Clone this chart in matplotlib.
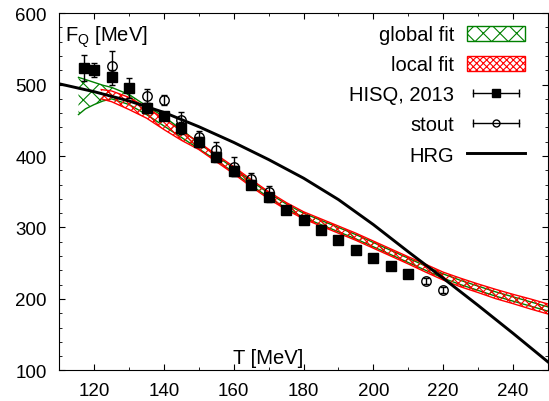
import matplotlib
matplotlib.use("Agg")
import matplotlib.pyplot as plt
from matplotlib.lines import Line2D
from matplotlib.patches import Patch
from matplotlib.legend_handler import HandlerLine2D
from matplotlib.ticker import MultipleLocator

plt.rcParams["font.family"] = ["Liberation Sans", "DejaVu Sans"]
plt.rcParams["hatch.linewidth"] = 0.8

# global fit band (green)
global_T = [115.5, 117.5, 120, 122.5, 125, 130, 135, 140, 145, 150, 155, 160, 165, 170, 175, 180,
            185, 190, 195, 200, 205, 210, 215, 220, 225, 230, 235, 240, 245, 250]
global_hi = [510, 507, 503, 499, 496, 486, 470, 455, 437, 418, 400, 383, 365, 348, 333, 320,
             310, 300, 290, 279, 268, 257, 246, 235, 226, 218, 210, 203, 196, 189]
global_lo = [458, 466, 472, 477, 480, 472, 458, 442, 426, 410, 394, 377, 359, 342, 327, 314,
             304, 294, 284, 273, 262, 251, 240, 229, 220, 212, 204, 197, 190, 183]

# local fit band (red)
local_T = [122, 125, 130, 135, 140, 145, 150, 155, 160, 165, 170, 175, 180, 185, 190, 195,
           200, 205, 210, 215, 220, 225, 230, 235, 240, 245, 250]
local_hi = [493, 491, 482, 468, 452, 435, 419, 402, 385, 367, 350, 335, 322, 312, 302, 292,
            281, 270, 259, 248.5, 237.5, 229, 221, 213.5, 206.5, 200, 193]
local_lo = [480, 476, 465, 453, 437, 422, 409, 392, 375, 357, 340, 325, 312, 302, 292, 282,
            271, 260, 249, 237.5, 226.5, 217, 209, 200.5, 193.5, 186, 179]

# HISQ 2013 lattice data
hisq_T = [117, 120, 125, 130, 135, 140, 145, 150, 155, 160, 165, 170, 175, 180, 185, 190, 195,
          200, 205, 210]
hisq_F = [523, 520, 510, 495, 467, 456, 439, 420, 399, 379, 360, 342, 325, 310, 296, 283, 269,
          258, 246, 235]
hisq_err = [18, 10, 11, 14, 7, 6, 8, 7, 7, 7, 6, 6, 5, 5, 4, 4, 4, 4, 4, 4]

# stout data
stout_T = [125, 135, 140, 145, 150, 155, 160, 165, 170, 215, 220]
stout_F = [526, 484, 478, 450, 426, 408, 385, 368, 350, 225, 213]
stout_err = [21, 10, 7, 12, 9, 12, 13, 8, 8, 4, 4]

# hadron resonance gas
hrg_T = [110, 120, 130, 140, 150, 160, 170, 180, 190, 200, 210, 220, 230, 240, 250]
hrg_F = [501, 490, 477, 461, 441, 419, 395, 369, 339, 304, 266, 229, 191, 152, 112]

fig = plt.figure(figsize=(5.49, 4.02), dpi=100)
ax = fig.add_axes([0.108, 0.076, 0.89, 0.889])

# bands: hatch only, edges drawn as separate curves (no closing lines)
ax.fill_between(global_T, global_lo, global_hi, facecolor="none", edgecolor="green",
                hatch="xx", linewidth=0, zorder=2)
ax.plot(global_T, global_hi, color="green", lw=1, zorder=2)
ax.plot(global_T, global_lo, color="green", lw=1, zorder=2)
ax.fill_between(local_T, local_lo, local_hi, facecolor="none", edgecolor="red",
                hatch="xxxx", linewidth=0, zorder=2)
ax.plot(local_T, local_hi, color="red", lw=1, zorder=2)
ax.plot(local_T, local_lo, color="red", lw=1, zorder=2)

ax.errorbar(hisq_T, hisq_F, yerr=hisq_err, fmt="s", color="black", markersize=7.2,
            capsize=2.5, elinewidth=1, zorder=4)
ax.errorbar(stout_T, stout_F, yerr=stout_err, fmt="o", color="black", mfc="none",
            markersize=6.8, mew=1, capsize=2.5, elinewidth=1, zorder=4)
ax.plot(hrg_T, hrg_F, color="black", lw=2.1, zorder=3)

ax.set_xlim(110, 250)
ax.set_ylim(100, 600)
ax.xaxis.set_major_locator(MultipleLocator(20))
ax.xaxis.set_minor_locator(MultipleLocator(10))
ax.yaxis.set_major_locator(MultipleLocator(100))
ax.yaxis.set_minor_locator(MultipleLocator(20))
ax.tick_params(which="both", direction="in", top=True, right=True, labelsize=13.5)
ax.tick_params(which="major", length=4.5)
ax.tick_params(which="minor", length=2.5)
ax.tick_params(axis="x", pad=8)
ax.tick_params(axis="y", pad=9)

ax.text(0.012, 0.972, "F$_\\mathregular{Q}$ [MeV]", transform=ax.transAxes, fontsize=14.5,
        ha="left", va="top")
ax.text(0.356, 0.01, "T [MeV]", transform=ax.transAxes, fontsize=14.5, ha="left", va="bottom")

caps = Line2D([], [], color="black", lw=1, marker="|", markersize=6)
sq = Line2D([], [], ls="none", marker="s", color="black", markersize=6)
circ = Line2D([], [], ls="none", marker="o", color="black", mfc="none", markersize=5)
handles = [
    Patch(facecolor="none", edgecolor="green", hatch="xx", label="global fit"),
    Patch(facecolor="none", edgecolor="red", hatch="xxxxx", label="local fit"),
    (caps, sq),
    (caps, circ),
    Line2D([], [], color="black", lw=2.1),
]
labels = ["global fit", "local fit", "HISQ, 2013", "stout", "HRG"]
ax.legend(handles, labels, loc="upper right", bbox_to_anchor=(0.953, 0.966), frameon=False,
          markerfirst=False, fontsize=14.5, handlelength=2.9, handleheight=0.75,
          handletextpad=0.6, labelspacing=0.55, borderaxespad=0, borderpad=0,
          handler_map={caps: HandlerLine2D(numpoints=2)})

fig.savefig("out.png", dpi=100)
